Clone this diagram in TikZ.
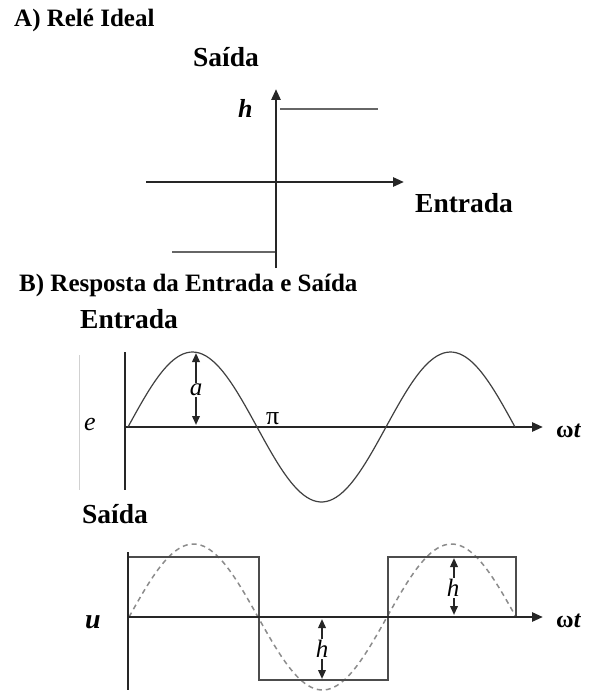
\documentclass[tikz,border=0pt]{standalone}
\usepackage{fontspec}
\setmainfont{Liberation Serif}
\usetikzlibrary{arrows.meta}
\tikzset{
  axis/.style={line width=2.6pt, black!85},
  axarrow/.style={axis, -{Triangle[length=11pt,width=9pt]}},
  relay/.style={line width=2.4pt, black!60},
  curve/.style={line width=1.2pt, black!75},
  square/.style={line width=1.7pt, black!70},
  dashcurve/.style={line width=1.5pt, black!45, dash pattern=on 5pt off 4pt},
  dimarrow/.style={line width=2pt, black!85, {Triangle[length=9pt,width=7.5pt]}-{Triangle[length=9pt,width=7.5pt]}},
  title/.style={font=\bfseries\fontsize{25}{25}\selectfont, anchor=base west, inner sep=0pt},
  lab/.style={font=\bfseries\fontsize{27.5}{27.5}\selectfont, anchor=base west, inner sep=0pt},
  var/.style={font=\itshape\fontsize{26}{26}\selectfont, anchor=base west, inner sep=0pt},
  dimlab/.style={font=\itshape\fontsize{25}{25}\selectfont, fill=white, inner sep=1pt},
  omlab/.style={font=\bfseries\fontsize{24}{24}\selectfont, anchor=base west, inner sep=0pt},
}
\begin{document}
\begin{tikzpicture}[x=1pt,y=-1pt]
\useasboundingbox (0,0) rectangle (593,695);
\fill[white] (0,0) rectangle (593,695);

% ---------- A) ideal relay ----------
\node[title] (ta) at (14,27) {A) Relé Ideal};
\node[lab] (sa) at (193,67) {Saída};
\node[lab] (ea) at (415,212) {Entrada};
\node[var, font=\bfseries\itshape\fontsize{26}{26}\selectfont] (ha) at (238,118) {h};

\coordinate (ay0) at (276,268);
\coordinate (ay1) at (276,89);
\coordinate (ax0) at (146,182);
\coordinate (ax1) at (404,182);
\draw[axarrow] (ay0) -- (ay1);
\draw[axarrow] (ax0) -- (ax1);
\coordinate (up0) at (280,109);
\coordinate (up1) at (378,109);
\coordinate (lo0) at (172,252);
\coordinate (lo1) at (275,252);
\draw[relay] (up0) -- (up1);
\draw[relay] (lo0) -- (lo1);

% ---------- B) input/output ----------
\node[title] (tb) at (19,291) {B) Resposta da Entrada e Saída};
\node[lab] (eb) at (80,328) {Entrada};
\node[lab] (sb) at (82,523) {Saída};

% faint scan line
\draw[black!18, line width=0.8pt] (79,355) -- (79,490);

% input plot
\coordinate (iy0) at (125,352);
\coordinate (iy1) at (125,490);
\coordinate (ix0) at (125,427);
\coordinate (ix1) at (543,427);
\draw[axis] (iy0) -- (iy1);
\draw[axarrow] (ix0) -- (ix1);
\draw[curve] plot[domain=0:540, samples=120, smooth] ({128 + \x/180*129}, {427 - 75*sin(\x)});
\node[var] (le) at (84,430) {e};
\node[font=\fontsize{26}{26}\selectfont, anchor=base west, inner sep=0pt] (lpi) at (266,424) {π};
\node[omlab] (lw1) at (556,437) {ω\textit{t}};
\coordinate (a0) at (196,353);
\coordinate (a1) at (196,425);
\draw[dimarrow] (a0) -- (a1);
\node[dimlab] (la) at (196,390) {a};

% output plot
\coordinate (oy0) at (128,552);
\coordinate (oy1) at (128,690);
\coordinate (ox0) at (128,617);
\coordinate (ox1) at (543,617);
\draw[dashcurve] plot[domain=0:540, samples=120, smooth] ({129 + \x/180*129}, {617 - 73*sin(\x)});
\draw[square] (129,557) -- (259,557) -- (259,680) -- (388,680) -- (388,557) -- (516,557) -- (516,617);
\draw[axis] (oy0) -- (oy1);
\draw[axarrow] (ox0) -- (ox1);
\node[var, font=\bfseries\itshape\fontsize{28}{28}\selectfont] (lu) at (85,628) {u};
\node[omlab] (lw2) at (556,627) {ω\textit{t}};
\coordinate (h10) at (454,558);
\coordinate (h11) at (454,615);
\draw[dimarrow] (h10) -- (h11);
\node[dimlab] (lh1) at (453,588) {h};
\coordinate (h20) at (322,619);
\coordinate (h21) at (322,679);
\draw[dimarrow] (h20) -- (h21);
\node[dimlab] (lh2) at (322,649) {h};
\end{tikzpicture}
\end{document}
